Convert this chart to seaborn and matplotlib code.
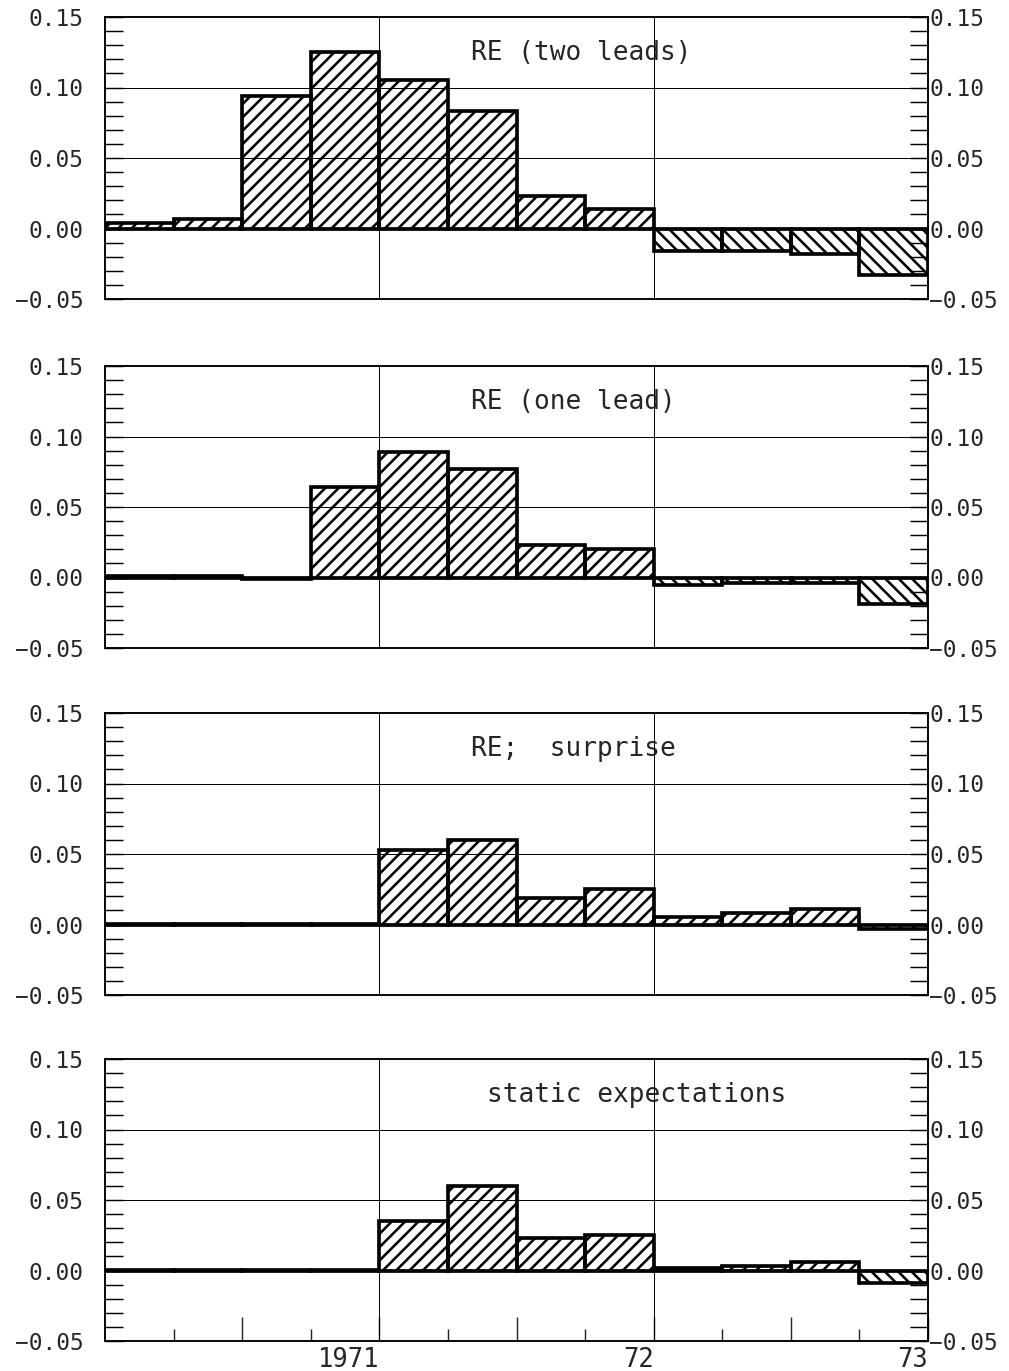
import seaborn as sns
import matplotlib.pyplot as plt
from matplotlib.ticker import MultipleLocator, FixedLocator

# quarters 1970Q1 .. 1972Q4
quarters = ["1970Q1", "1970Q2", "1970Q3", "1970Q4",
            "1971Q1", "1971Q2", "1971Q3", "1971Q4",
            "1972Q1", "1972Q2", "1972Q3", "1972Q4"]

re_two_leads = [0.004, 0.007, 0.094, 0.125, 0.105, 0.083,
                0.023, 0.014, -0.016, -0.016, -0.018, -0.033]
re_one_lead = [0.001, 0.001, -0.001, 0.064, 0.089, 0.077,
               0.023, 0.020, -0.005, -0.004, -0.004, -0.019]
re_surprise = [0.0005, 0.0005, 0.0005, 0.0005, 0.053, 0.060,
               0.019, 0.025, 0.005, 0.008, 0.011, -0.003]
static_exp = [0.0005, 0.0005, 0.0005, 0.0005, 0.035, 0.060,
              0.023, 0.025, 0.002, 0.003, 0.006, -0.009]

panel_titles = ["RE (two leads)", "RE (one lead)", "RE;  surprise",
                "static expectations"]
panel_data = [re_two_leads, re_one_lead, re_surprise, static_exp]

y_ticks = [-0.05, 0.0, 0.05, 0.10, 0.15]
y_labels = ["\u22120.05", "0.00", "0.05", "0.10", "0.15"]
year_ticks = [1.5, 3.5, 5.5, 7.5, 9.5, 11.5]
year_labels = ["", "1971", "", "72", "", "73"]
quarter_ticks = [0.5, 2.5, 4.5, 6.5, 8.5, 10.5]

DPI = 80
sns.set_style("white")
plt.rcParams["font.family"] = ["DejaVu Sans Mono", "DejaVu Sans"]
plt.rcParams["hatch.linewidth"] = 2.3

fig = plt.figure(figsize=(1009 / DPI, 1371 / DPI), dpi=DPI)

left, width, height = 105 / 1009, 823 / 1009, 282 / 1371
bottoms_px = [299, 648, 995, 1341]
title_x = [0.445, 0.445, 0.445, 0.464]


def style_y(axis_obj, side, pad):
    axis_obj.yaxis.set_major_locator(FixedLocator(y_ticks))
    axis_obj.yaxis.set_minor_locator(MultipleLocator(0.01))
    axis_obj.set_yticks(y_ticks)
    axis_obj.set_yticklabels(y_labels)
    kw = dict(left=(side == "left"), right=(side == "right"),
              labelleft=(side == "left"), labelright=(side == "right"))
    axis_obj.tick_params(axis="y", which="both", direction="in",
                         width=1.3, color="black", **kw)
    axis_obj.tick_params(axis="y", which="major", length=16,
                         labelsize=20.5, pad=pad)
    axis_obj.tick_params(axis="y", which="minor", length=16)


for i, (vals, title) in enumerate(zip(panel_data, panel_titles)):
    ax = fig.add_axes([left, 1 - bottoms_px[i] / 1371, width, height])
    sns.barplot(x=quarters, y=vals, ax=ax, width=1.0, color="white",
                saturation=1, edgecolor="black", linewidth=3.3, zorder=2)
    for patch, v in zip(ax.patches, vals):
        patch.set_hatch("//" if v >= 0 else "\\\\")
        patch.set_facecolor("none")

    ax.set_xlim(-0.5, 11.5)
    ax.set_ylim(-0.05, 0.15)
    for yv in (0.05, 0.10):
        ax.axhline(yv, color="black", lw=0.9, zorder=1)
    for xv in (3.5, 7.5):
        ax.axvline(xv, color="black", lw=0.9, zorder=1)
    ax.axhline(0, color="black", lw=2.2, zorder=3)

    ax2 = ax.twinx()
    ax2.set_ylim(-0.05, 0.15)
    style_y(ax, "left", 19)
    style_y(ax2, "right", 1)

    for a in (ax, ax2):
        for sp in a.spines.values():
            sp.set_visible(True)
            sp.set_color("black")
            sp.set_linewidth(1.4)
        a.set_ylabel("")

    if i < 3:
        ax.set_xticks([])
    else:
        ax.xaxis.set_major_locator(FixedLocator(year_ticks))
        ax.xaxis.set_minor_locator(FixedLocator(quarter_ticks))
        ax.set_xticklabels(year_labels, ha="right")
        ax.tick_params(axis="x", which="major", direction="in", bottom=True,
                       length=22, width=1.3, labelsize=23, pad=5)
        ax.tick_params(axis="x", which="minor", direction="in", bottom=True,
                       length=11, width=1.3)
    ax.set_xlabel("")

    ax.text(title_x[i], 0.872, title, transform=ax.transAxes, fontsize=23.5,
            ha="left", va="center")

fig.savefig("out.png", dpi=DPI)
